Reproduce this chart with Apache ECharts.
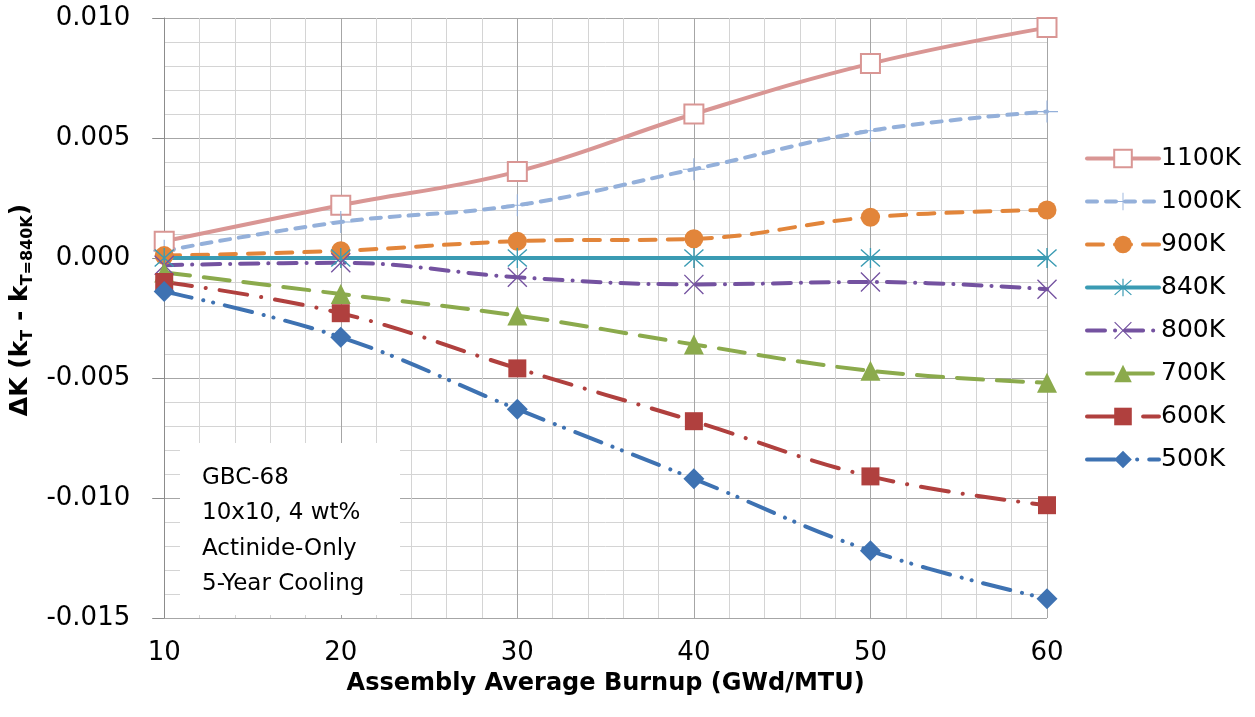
<!DOCTYPE html>
<html>
<head>
<meta charset="utf-8">
<script src="https://cdn.jsdelivr.net/npm/echarts@6/dist/echarts.min.js"></script>
<style>
  html, body { margin: 0; padding: 0; background: #fff; }
  #chart { width: 1255px; height: 717px; }
</style>
</head>
<body>
<div id="chart"></div>
<script>
// burnup points (GWd/MTU)
const burnup = [10, 20, 30, 40, 50, 60];

// delta k vs. 840K
const k1100 = [0.0007, 0.0022, 0.0036, 0.0060, 0.0081, 0.0096];
const k1000 = [0.0003, 0.0015, 0.0022, 0.0037, 0.0053, 0.0061];
const k900 = [0.0001, 0.0003, 0.0007, 0.0008, 0.0017, 0.0020];
const k840 = [0, 0, 0, 0, 0, 0];
const k800 = [-0.0003, -0.0002, -0.0008, -0.0011, -0.0010, -0.0013];
const k700 = [-0.0006, -0.0015, -0.0024, -0.0036, -0.0047, -0.0052];
const k600 = [-0.0010, -0.0023, -0.0046, -0.0068, -0.0091, -0.0103];
const k500 = [-0.0014, -0.0033, -0.0063, -0.0092, -0.0122, -0.0142];

const noteLines = ['GBC-68', '10x10, 4 wt%', 'Actinide-Only', '5-Year Cooling'];

const FONT = 'DejaVu Sans';

// thin-stroke marker shapes as filled paths
const plusPath = 'path://M-0.05,-1L0.05,-1L0.05,1L-0.05,1Z M-1,-0.05L1,-0.05L1,0.05L-1,0.05Z';
const xPath = 'path://M-0.808,-0.892L0.892,0.808L0.808,0.892L-0.892,-0.808Z M0.808,-0.892L0.892,-0.808L-0.808,0.892L-0.892,0.808Z';
const starPath = 'path://M-0.06,-1L0.06,-1L0.06,1L-0.06,1Z ' +
  'M-0.808,-0.892L0.892,0.808L0.808,0.892L-0.892,-0.808Z M0.808,-0.892L0.892,-0.808L-0.808,0.892L-0.892,0.808Z';

function pairs(vals) {
  return vals.map((v, i) => [burnup[i], v]);
}

function line(name, vals, color, dash, symbol, size, extra) {
  return Object.assign({
    name,
    type: 'line',
    data: pairs(vals),
    smooth: 0.4,
    clip: false,
    symbol,
    symbolSize: size,
    showAllSymbol: true,
    lineStyle: { color, width: 4, type: dash, cap: 'round' },
    itemStyle: { color, borderColor: color, borderWidth: 0 },
    emphasis: { disabled: true },
  }, extra || {});
}

const series = [
  line('1100K', k1100, '#D99694', 'solid', 'emptyRect', 19,
    { itemStyle: { color: '#D99694', borderColor: '#D99694', borderWidth: 1.8 } }),
  line('1000K', k1000, '#94B0DA', [10, 9], plusPath, 22),
  line('900K', k900, '#E2853A', [16, 12], 'circle', 19),
  line('840K', k840, '#3A9BB3', 'solid', starPath, 20),
  line('800K', k800, '#7452A0', [18, 10, 0.1, 10], xPath, 20),
  line('700K', k700, '#8BAA4C', [26, 14], 'triangle', 20),
  line('600K', k600, '#B0403E', [28, 14, 0.1, 14], 'rect', 18),
  line('500K', k500, '#3E72B2', [28, 12, 0.1, 10, 0.1, 12], 'diamond', 21),
];

const chart = echarts.init(document.getElementById('chart'));

chart.setOption({
  animation: false,
  backgroundColor: '#fff',
  grid: { left: 160, right: 208, top: 18, bottom: 99, containLabel: false },
  xAxis: {
    type: 'value',
    min: 10,
    max: 60,
    interval: 10,
    name: 'Assembly Average Burnup (GWd/MTU)',
    nameLocation: 'middle',
    nameGap: 54,
    nameTextStyle: { fontFamily: FONT, fontSize: 24, fontWeight: 'bold', color: '#000' },
    axisLine: { lineStyle: { color: '#8c8c8c', width: 1 } },
    axisTick: { show: true, length: 10, lineStyle: { color: '#8c8c8c' } },
    minorTick: { show: false, splitNumber: 5 },
    axisLabel: { fontFamily: FONT, fontSize: 26, color: '#000', margin: 22 },
    splitLine: { show: true, lineStyle: { color: '#a6a6a6', width: 1 } },
    minorSplitLine: { show: true, lineStyle: { color: '#d4d4d4', width: 1 } },
  },
  yAxis: {
    type: 'value',
    min: -0.015,
    max: 0.010,
    interval: 0.005,
    name: '{b|ΔK (k}{s|T}{b| - k}{s|T=840K}{b|)}',
    nameLocation: 'middle',
    nameGap: 128,
    nameTextStyle: {
      padding: [0, 0, 0, 16],
      rich: {
        b: { fontFamily: FONT, fontSize: 25, fontWeight: 'bold', color: '#000' },
        s: { fontFamily: FONT, fontSize: 16, fontWeight: 'bold', color: '#000', verticalAlign: 'bottom', padding: [14, 0, 0, 0] },
      },
    },
    axisLine: { show: true, lineStyle: { color: '#8c8c8c', width: 1 } },
    axisTick: { show: true, length: 12, lineStyle: { color: '#8c8c8c' } },
    minorTick: { show: false, splitNumber: 5 },
    axisLabel: {
      fontFamily: FONT,
      fontSize: 26,
      color: '#000',
      margin: 34,
      formatter: (v) => (Math.abs(v) < 1e-9 ? '0.000' : v.toFixed(3)),
    },
    splitLine: { show: true, lineStyle: { color: '#a6a6a6', width: 1 } },
    minorSplitLine: { show: true, lineStyle: { color: '#d4d4d4', width: 1 } },
  },
  legend: {
    orient: 'vertical',
    left: 1080,
    top: 141,
    itemWidth: 72,
    itemHeight: 22,
    itemGap: 18,
    lineStyle: { width: 'inherit' },
    textStyle: { fontFamily: FONT, fontSize: 25, color: '#000', padding: [0, 0, 0, -3] },
    data: series.map((s) => s.name),
  },
  graphic: [
    {
      type: 'group',
      left: 180,
      top: 443,
      z: 100,
      children: [
        {
          type: 'rect',
          z: 100,
          shape: { x: 0, y: 0, width: 220, height: 172 },
          style: { fill: '#fff' },
        },
        {
          type: 'text',
          z: 101,
          left: 22,
          top: 17,
          style: {
            text: noteLines.join('\n'),
            fontFamily: FONT,
            fontSize: 23,
            lineHeight: 35.5,
            fill: '#000',
          },
        },
      ],
    },
  ],
  series,
});

window.addEventListener('resize', () => chart.resize());
</script>
</body>
</html>
